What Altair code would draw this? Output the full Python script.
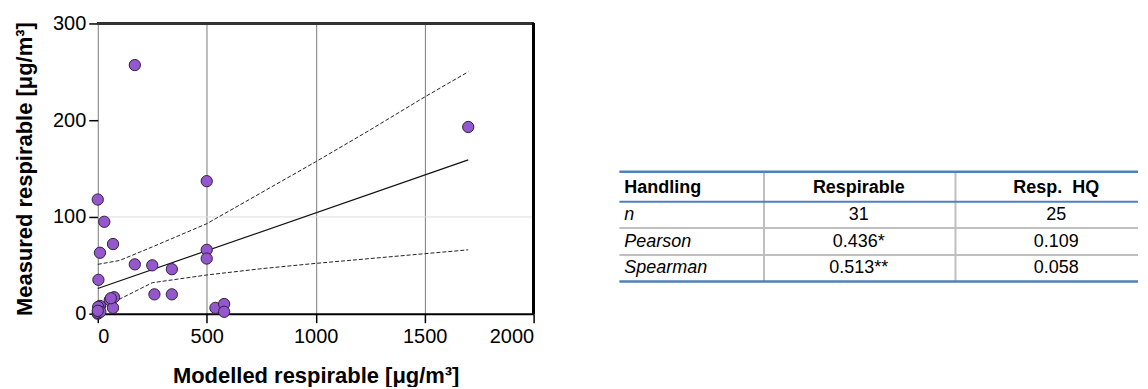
import altair as alt
import pandas as pd

# ---------------- data ----------------
modelled = [170, 0, 30, 70, 10, 3, 170, 250, 340, 500, 500, 500, 260, 340, 540, 580, 580,
            75, 55, 70, 10, 3, 0, 1700, 4, 1, 6, 2, 60, 12, 0]
measured = [257, 118, 95, 72, 63, 35, 51, 50, 46, 137, 66, 57, 20, 20, 6, 10, 2,
            17, 14, 6, 8, 2, 0, 193, 5, 1, 3, 7, 16, 2, 3]

fit_x = [0, 1700]
fit_y = [26, 159]

ci_x = [0, 100, 250, 500, 750, 1000, 1250, 1500, 1700]
ci_upper = [51, 55, 69, 93, 125, 157, 190, 224, 250]
ci_lower = [3, 15, 32, 40, 46.5, 52, 57, 62, 66]

x_ticks = [0, 500, 1000, 1500, 2000]
y_ticks = [0, 100, 200, 300]
y_ref = [100]

table_columns = ["Handling", "Respirable", "Resp. \u00a0HQ"]
table_stats = ["n", "Pearson", "Spearman"]
table_respirable = ["31", "0.436*", "0.513**"]
table_hq = ["25", "0.109", "0.058"]

# ---------------- layout / style ----------------
FONT = "Liberation Sans"
W, H = 437, 291
TW, TH = 520, 291
col_text_x = [5, 240, 438]
row_text_y = [164.5, 192, 218.7, 245.7]
blue_lines_y = [148.7, 178.7, 258.7]
grey_lines_y = [205.2, 232.2]
sep_x = [145, 337]
table_top, table_bottom = 148.7, 258.7

xs = alt.Scale(domain=[0, 2000], nice=False, zero=False)
ys = alt.Scale(domain=[0, 300], nice=False)

pts = pd.DataFrame({"m": modelled, "v": measured})
fit = pd.DataFrame({"m": fit_x, "v": fit_y})
ci = pd.DataFrame({"m": ci_x * 2, "v": ci_upper + ci_lower,
                   "band": ["upper"] * len(ci_x) + ["lower"] * len(ci_x)})

x_axis = alt.Axis(values=x_ticks, title="Modelled respirable [μg/m³]", grid=True,
                  gridColor="#7a7a7a", gridWidth=1, domainColor="black", domainWidth=2,
                  tickColor="black", tickSize=9, tickWidth=1.5,
                  labelFont=FONT, labelFontSize=20, labelColor="black", labelPadding=4,
                  titleFont=FONT, titleFontSize=22, titleFontWeight="bold",
                  titleColor="black", titlePadding=19, format="d")
y_axis = alt.Axis(values=y_ticks, title="Measured respirable [μg/m³]", grid=False,
                  domain=False, tickColor="black", tickSize=9, tickWidth=1.5,
                  labelFont=FONT, labelFontSize=20, labelColor="black", labelPadding=3,
                  titleFont=FONT, titleFontSize=22, titleFontWeight="bold",
                  titleColor="black", titlePadding=16, format="d")

base = alt.Chart(pts).encode(
    x=alt.X("m:Q", scale=xs, axis=x_axis),
    y=alt.Y("v:Q", scale=ys, axis=y_axis),
)

ref = alt.Chart(pd.DataFrame({"v": y_ref})).mark_rule(color="#dddddd", strokeWidth=1).encode(
    y=alt.Y("v:Q", scale=ys), x=alt.value(0), x2=alt.value(W))

ci_lines = alt.Chart(ci).mark_line(color="#222222", strokeWidth=1, strokeDash=[4, 2]).encode(
    x=alt.X("m:Q", scale=xs), y=alt.Y("v:Q", scale=ys), detail="band:N")

fit_line = alt.Chart(fit).mark_line(color="#111111", strokeWidth=1.2).encode(
    x=alt.X("m:Q", scale=xs), y=alt.Y("v:Q", scale=ys))

points = base.mark_circle(size=128, fill="#9457CC", stroke="#2f2140", strokeWidth=1, opacity=1)

top_border = alt.Chart(pts).mark_rule(color="#333333", strokeWidth=2).encode(
    x=alt.value(0), x2=alt.value(W), y=alt.value(0))
right_border = alt.Chart(pts).mark_rule(color="black", strokeWidth=2).encode(
    x=alt.value(W), y=alt.value(0), y2=alt.value(H))

plot = alt.layer(ref, ci_lines, fit_line, points, top_border, right_border).properties(
    width=W, height=H)

# ---------------- table ----------------
tx = alt.Scale(domain=[0, TW], nice=False, zero=False)
ty = alt.Scale(domain=[0, TH], nice=False, zero=False, reverse=True)

blue_df = pd.DataFrame({"y": blue_lines_y, "w": [2.5, 2, 2.5]})
grey_df = pd.DataFrame({"y": grey_lines_y})
sep_df = pd.DataFrame({"x": sep_x, "y": [table_top] * 2, "y2": [table_bottom] * 2})

grey_rules = alt.Chart(grey_df).mark_rule(color="#bfbfbf", strokeWidth=2).encode(
    y=alt.Y("y:Q", scale=ty, axis=None), x=alt.value(0), x2=alt.value(TW))
seps = alt.Chart(sep_df).mark_rule(color="#bfbfbf", strokeWidth=2).encode(
    x=alt.X("x:Q", scale=tx, axis=None), y=alt.Y("y:Q", scale=ty, axis=None), y2="y2:Q")
blue_rules = alt.Chart(blue_df).mark_rule(color="#4F81BD").encode(
    y=alt.Y("y:Q", scale=ty, axis=None), x=alt.value(0), x2=alt.value(TW),
    strokeWidth=alt.StrokeWidth("w:Q", scale=None))

header_df = pd.DataFrame({"t": table_columns, "x": col_text_x, "y": [row_text_y[0]] * 3})
header_left = alt.Chart(header_df.iloc[:1]).mark_text(
    font=FONT, fontSize=18, fontWeight="bold", align="left", baseline="middle", color="black"
).encode(x=alt.X("x:Q", scale=tx, axis=None), y=alt.Y("y:Q", scale=ty, axis=None), text="t:N")
header_center = alt.Chart(header_df.iloc[1:]).mark_text(
    font=FONT, fontSize=18, fontWeight="bold", align="center", baseline="middle", color="black"
).encode(x=alt.X("x:Q", scale=tx, axis=None), y=alt.Y("y:Q", scale=ty, axis=None), text="t:N")

stat_df = pd.DataFrame({"t": table_stats, "x": [col_text_x[0]] * 3, "y": row_text_y[1:]})
stat_text = alt.Chart(stat_df).mark_text(
    font=FONT, fontSize=18, fontStyle="italic", align="left", baseline="middle", color="black"
).encode(x=alt.X("x:Q", scale=tx, axis=None), y=alt.Y("y:Q", scale=ty, axis=None), text="t:N")

val_df = pd.DataFrame({"t": table_respirable + table_hq,
                       "x": [col_text_x[1]] * 3 + [col_text_x[2]] * 3,
                       "y": row_text_y[1:] * 2})
val_text = alt.Chart(val_df).mark_text(
    font=FONT, fontSize=18, align="center", baseline="middle", color="black"
).encode(x=alt.X("x:Q", scale=tx, axis=None), y=alt.Y("y:Q", scale=ty, axis=None), text="t:N")

table = alt.layer(grey_rules, seps, blue_rules, header_left, header_center, stat_text,
                  val_text).properties(width=TW, height=TH)

chart = alt.hconcat(plot, table, spacing=86, bounds="flush").properties(
    padding={"left": 5, "top": 5, "right": 0, "bottom": 0}
).configure_view(stroke=None)

chart.save("out.html", embed_options={"renderer": "svg", "actions": False})
